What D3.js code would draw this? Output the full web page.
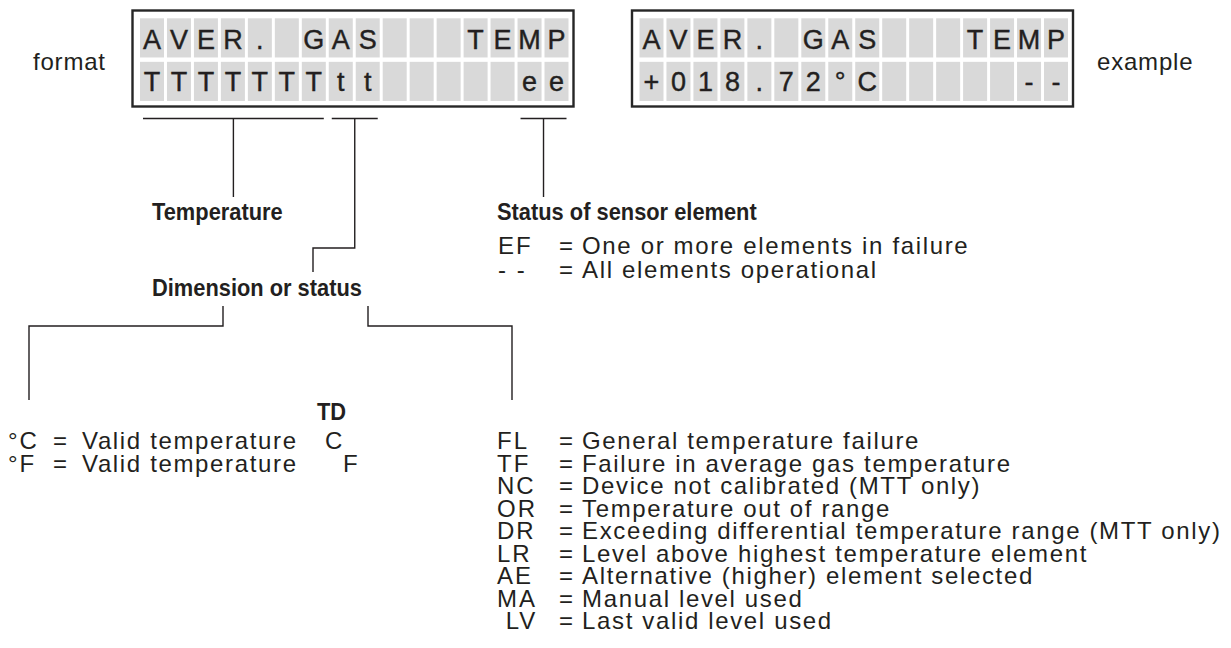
<!DOCTYPE html>
<html>
<head>
<meta charset="utf-8">
<script src="https://cdn.jsdelivr.net/npm/d3@7"></script>
<style>
  body { margin: 0; background: #fff; }
  text { font-family: Arial, "Liberation Sans", Helvetica, sans-serif; fill: #231f20; }
</style>
</head>
<body>
<script>
// LCD contents, one entry per character cell (16 per row)
const formatTop     = ["A", "V", "E", "R", ".", "", "G", "A", "S", "", "", "", "T", "E", "M", "P"];
const formatBottom  = ["T", "T", "T", "T", "T", "T", "T", "t", "t", "", "", "", "", "", "e", "e"];
const exampleTop    = ["A", "V", "E", "R", ".", "", "G", "A", "S", "", "", "", "T", "E", "M", "P"];
const exampleBottom = ["+", "0", "1", "8", ".", "7", "2", "°", "C", "", "", "", "", "", "-", "-"];

// fields marked under the format display: first and last cell
const fieldCells = [[0, 6], [7, 8], [14, 15]];
const fieldLabels = ["Temperature", "Dimension or status", "Status of sensor element"];

// legends
const sensorCodes = ["EF", "- -"];
const sensorText = ["One or more elements in failure", "All elements operational"];
const unitCodes = ["°C", "°F"];
const unitText = ["Valid temperature", "Valid temperature"];
const unitTD = ["C", "F"];
const statusCodes = ["FL", "TF", "NC", "OR", "DR", "LR", "AE", "MA", " LV"];
const statusText = [
  "General temperature failure",
  "Failure in average gas temperature",
  "Device not calibrated (MTT only)",
  "Temperature out of range",
  "Exceeding differential temperature range (MTT only)",
  "Level above highest temperature element",
  "Alternative (higher) element selected",
  "Manual level used",
  "Last valid level used"
];

const width = 1231, height = 648;
const ink = "#231f20";

const svg = d3.select("body").append("svg")
  .attr("width", width)
  .attr("height", height);

svg.append("rect").attr("width", width).attr("height", height).attr("fill", "#fff");

// cell scales
const cellX = d3.scaleBand().domain(d3.range(16)).range([140, 568.5]).paddingInner(0.11);
const rowY = d3.scaleBand().domain([0, 1]).range([18.3, 101]).paddingInner(0.1);
const exampleShift = 499.5;

function drawDisplay(dx, rows) {
  const g = svg.append("g").attr("transform", `translate(${dx},0)`);
  g.append("rect")
    .attr("x", 132.5).attr("y", 10.5)
    .attr("width", 441).attr("height", 96)
    .attr("fill", "#fff")
    .attr("stroke", "#262626")
    .attr("stroke-width", 2.4);

  rows.forEach((chars, r) => {
    const row = g.append("g");
    row.selectAll("rect")
      .data(chars)
      .join("rect")
      .attr("x", (d, i) => cellX(i))
      .attr("y", rowY(r))
      .attr("width", cellX.bandwidth())
      .attr("height", rowY.bandwidth())
      .attr("fill", "#d9d9d9");
    row.selectAll("text")
      .data(chars)
      .join("text")
      .attr("x", (d, i) => cellX(i) + cellX.bandwidth() / 2)
      .attr("y", rowY(r) + 30.5 - r * 1.5)
      .attr("text-anchor", "middle")
      .attr("font-size", 27)
      .attr("stroke", ink)
      .attr("stroke-width", 0.4)
      .text(d => d);
  });
}

drawDisplay(0, [formatTop, formatBottom]);
drawDisplay(exampleShift, [exampleTop, exampleBottom]);

// side captions
svg.append("text").attr("x", 33).attr("y", 70).attr("font-size", 24).attr("letter-spacing", 0.8).text("format");
svg.append("text").attr("x", 1097).attr("y", 70).attr("font-size", 24).attr("letter-spacing", 0.8).text("example");

// leader lines
const leaders = svg.append("g")
  .attr("fill", "none")
  .attr("stroke", ink)
  .attr("stroke-width", 1.4);

const bracketY = 118.5;
const leaderEnds = [
  [[null, 197]],
  [[null, 248], [313, 248], [313, 272]],
  [[null, 197]]
];
fieldCells.forEach(([a, b], i) => {
  const x0 = cellX(a) + 3, x1 = cellX(b) + cellX.bandwidth() - 2;
  const mid = (x0 + x1) / 2;
  leaders.append("line").attr("x1", x0).attr("x2", x1).attr("y1", bracketY).attr("y2", bracketY);
  const pts = [[mid, bracketY]].concat(leaderEnds[i].map(p => [p[0] === null ? mid : p[0], p[1]]));
  leaders.append("path").attr("d", d3.line()(pts));
});

// split under "Dimension or status"
leaders.append("path").attr("d", d3.line()([[223, 306], [223, 326], [29, 326], [29, 400]]));
leaders.append("path").attr("d", d3.line()([[368, 306], [368, 326], [512, 326], [512, 400]]));

// bold captions (condensed)
const captionPos = [[152, 220], [152, 296], [497, 220]];
fieldLabels.forEach((label, i) => {
  svg.append("text")
    .attr("transform", `translate(${captionPos[i][0]},${captionPos[i][1]}) scale(0.95,1)`)
    .attr("font-size", 23)
    .attr("font-weight", "bold")
    .text(label);
});
svg.append("text")
  .attr("transform", "translate(317,420) scale(0.95,1)")
  .attr("font-size", 23)
  .attr("font-weight", "bold")
  .text("TD");

// legend rows
function legend(codes, texts, yScale, xCode, xEq, xText) {
  const g = svg.append("g").attr("font-size", 24);
  codes.forEach((c, i) => {
    const y = yScale(i);
    g.append("text").attr("x", xCode).attr("y", y).attr("letter-spacing", 2).style("white-space", "pre").text(c);
    g.append("text").attr("x", xEq).attr("y", y).text("=");
    g.append("text").attr("x", xText).attr("y", y).attr("letter-spacing", 1.65).text(texts[i]);
  });
  return g;
}

const sensorY = d3.scaleLinear().domain([0, 1]).range([254, 278]);
legend(sensorCodes, sensorText, sensorY, 498, 559, 582);

const unitY = d3.scaleLinear().domain([0, 1]).range([449, 471.5]);
const unitG = legend(unitCodes, unitText, unitY, 8, 53, 82);
unitTD.forEach((t, i) => {
  unitG.append("text").attr("x", i === 0 ? 325 : 343).attr("y", unitY(i)).text(t);
});

const statusY = d3.scaleLinear().domain([0, statusCodes.length - 1]).range([449, 629]);
legend(statusCodes, statusText, statusY, 497, 559, 582);
</script>
</body>
</html>
